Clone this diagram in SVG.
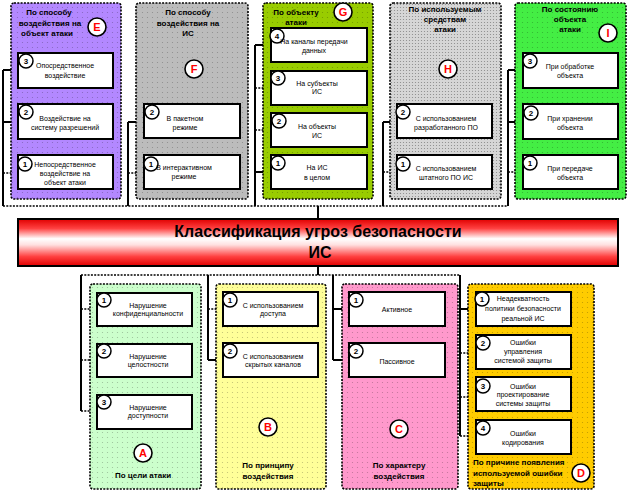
<svg xmlns="http://www.w3.org/2000/svg" width="629" height="492" viewBox="0 0 629 492">
<defs>
<style>
.panel{stroke:#000;stroke-width:1.6;stroke-dasharray:2 1.3}
.box{fill:#fff;stroke:#000;stroke-width:2}
.num{fill:#fff;stroke:#000;stroke-width:1.5}
.lc{fill:#fff;stroke:#000;stroke-width:1.6}
.nt{font-family:"Liberation Sans",Arial,sans-serif;font-size:8px;font-weight:bold;text-anchor:middle;fill:#000}
.lt{font-family:"Liberation Sans",Arial,sans-serif;font-size:11px;font-weight:bold;text-anchor:middle;fill:#ff0000}
.bt{font-family:"Liberation Sans",Arial,sans-serif;font-size:7px;text-anchor:middle;fill:#000}
.pt{font-family:"Liberation Sans",Arial,sans-serif;font-size:8px;font-weight:bold;text-anchor:middle;fill:#000}
.ln{stroke:#000;stroke-width:2;fill:none}
.dl{stroke:#000;stroke-width:1.6;fill:none;stroke-dasharray:2 1.3}
.tt{font-family:"Liberation Sans",Arial,sans-serif;font-size:16px;font-weight:bold;text-anchor:middle;fill:#000}
</style>
<pattern id="dots" width="5" height="5" patternUnits="userSpaceOnUse"><circle cx="2.5" cy="2.5" r="0.6" fill="#000" fill-opacity="0.25"/></pattern>
<pattern id="hatch" width="3" height="3" patternUnits="userSpaceOnUse"><rect width="3" height="3" fill="#d6d6d6"/><circle cx="1.5" cy="1.5" r="0.6" fill="#888"/></pattern>
<linearGradient id="red" x1="0" y1="0" x2="0" y2="1">
<stop offset="0" stop-color="#e00000"/>
<stop offset="0.2" stop-color="#ff4040"/>
<stop offset="0.42" stop-color="#ffffff"/>
<stop offset="0.55" stop-color="#ffe0e0"/>
<stop offset="0.8" stop-color="#ff4040"/>
<stop offset="1" stop-color="#e00000"/>
</linearGradient>
</defs>

<g id="connectors">
<!-- top bus -->
<path class="dl" d="M3 206 H508"/>
<path class="ln" d="M318 206 V219"/>
<path class="ln" d="M318 266 V275"/>
<path class="dl" d="M81 275 H460"/>
<!-- E -->
<path class="ln" d="M3 70 V206"/>
<path class="ln" d="M3 70 H18 M3 122 H18"/>
<path class="dl" d="M3 173 H18"/>
<!-- F -->
<path class="ln" d="M128 122 V206"/>
<path class="ln" d="M128 122 H144"/>
<path class="dl" d="M128 173 H144"/>
<!-- G -->
<path class="ln" d="M255 45 V206"/>
<path class="ln" d="M255 45 H271 M255 172 H271"/>
<path class="dl" d="M255 88 H271 M255 130 H271"/>
<!-- H -->
<path class="ln" d="M383 122 V206"/>
<path class="ln" d="M383 122 H397"/>
<path class="dl" d="M383 172 H397"/>
<!-- I -->
<path class="ln" d="M508 70 V206"/>
<path class="ln" d="M508 70 H523 M508 122 H523"/>
<path class="dl" d="M508 172 H523"/>
<!-- A -->
<path class="ln" d="M81 275 V411"/>
<path class="dl" d="M81 309 H97 M81 360 H97 M81 411 H97"/>
<!-- B -->
<path class="ln" d="M208 275 V360"/>
<path class="dl" d="M208 309 H223"/>
<path class="ln" d="M208 360 H223"/>
<!-- C -->
<path class="ln" d="M333 275 V360"/>
<path class="ln" d="M333 309 H349 M333 360 H349"/>
<!-- D -->
<path class="ln" d="M460 275 V436"/>
<path class="ln" d="M460 309 H476"/>
<path class="dl" d="M460 353 H476 M460 397 H476 M460 436 H476"/>
</g>

<g id="title">
<rect x="18" y="219" width="600" height="47" fill="url(#red)" stroke="#000" stroke-width="2"/>
<text class="tt" x="318" y="237">Классификация угроз безопасности</text>
<text class="tt" x="320" y="258">ИС</text>
</g>

<!-- E -->
<g id="groupE">
<rect class="panel" x="11" y="3" width="110" height="196" rx="3" fill="#b388ff"/>
<rect x="11" y="3" width="110" height="196" rx="3" fill="url(#dots)"/>
<text class="pt" x="49" y="15">По способу</text>
<text class="pt" x="50" y="26">воздействия на</text>
<text class="pt" x="47" y="36">объект атаки</text>
<circle class="lc" cx="97" cy="27" r="9"/><text class="lt" x="97" y="31">E</text>
</g>
<g id="E3"><rect class="box" x="18" y="53" width="95" height="35"/><circle class="num" cx="26" cy="61" r="7"/><text class="nt" x="26" y="64">3</text>
<text class="bt" x="65" y="67.5">Опосредственное</text><text class="bt" x="65" y="77.5">воздействие</text></g>
<g id="E2"><rect class="box" x="18" y="104" width="95" height="35"/><circle class="num" cx="26" cy="112" r="7"/><text class="nt" x="26" y="115">2</text>
<text class="bt" x="65" y="120.5">Воздействие на</text><text class="bt" x="65" y="129.5">систему разрешений</text></g>
<g id="E1"><rect class="box" x="18" y="155" width="95" height="34"/><circle class="num" cx="25" cy="164" r="7"/><text class="nt" x="25" y="167">1</text>
<text class="bt" x="65" y="166.5">Непосредственное</text><text class="bt" x="65" y="175.5">воздействие на</text><text class="bt" x="65" y="184.5">объект атаки</text></g>

<!-- F -->
<g id="groupF">
<rect class="panel" x="136" y="3" width="112" height="196" rx="3" fill="#bcbcbc"/>
<rect x="136" y="3" width="112" height="196" rx="3" fill="url(#dots)"/>
<text class="pt" x="188" y="15">По способу</text>
<text class="pt" x="188" y="26">воздействия на</text>
<text class="pt" x="188" y="36">ИС</text>
<circle class="lc" cx="194" cy="69" r="9"/><text class="lt" x="194" y="73">F</text>
</g>
<g id="F2"><rect class="box" x="144" y="104" width="96" height="34"/><circle class="num" cx="152" cy="112" r="7"/><text class="nt" x="152" y="115">2</text>
<text class="bt" x="185" y="120.5">В пакетном</text><text class="bt" x="185" y="129.5">режиме</text></g>
<g id="F1"><rect class="box" x="144" y="155" width="96" height="34"/><circle class="num" cx="151" cy="164" r="7"/><text class="nt" x="151" y="167">1</text>
<text class="bt" x="184" y="169.5">В интерактивном</text><text class="bt" x="184" y="178.5">режиме</text></g>

<!-- G -->
<g id="groupG">
<rect class="panel" x="263" y="3" width="110" height="196" rx="3" fill="#99cc00"/>
<rect x="263" y="3" width="110" height="196" rx="3" fill="url(#dots)"/>
<text class="pt" x="296" y="15">По объекту</text>
<text class="pt" x="296" y="25">атаки</text>
<circle class="lc" cx="343" cy="12" r="9"/><text class="lt" x="343" y="16">G</text>
</g>
<g id="G4"><rect class="box" x="271" y="28" width="96" height="34"/><circle class="num" cx="277" cy="36" r="7"/><text class="nt" x="277" y="39">4</text>
<text class="bt" x="314" y="43.5">На каналы передачи</text><text class="bt" x="314" y="52.5">данных</text></g>
<g id="G3"><rect class="box" x="271" y="71" width="96" height="34"/><circle class="num" cx="278" cy="78" r="7"/><text class="nt" x="278" y="81">3</text>
<text class="bt" x="317" y="85.5">На субъекты</text><text class="bt" x="317" y="94">ИС</text></g>
<g id="G2"><rect class="box" x="271" y="113" width="96" height="34"/><circle class="num" cx="279" cy="121" r="7"/><text class="nt" x="279" y="124">2</text>
<text class="bt" x="317" y="128.5">На объекты</text><text class="bt" x="317" y="137.5">ИС</text></g>
<g id="G1"><rect class="box" x="271" y="155" width="96" height="34"/><circle class="num" cx="278" cy="163" r="7"/><text class="nt" x="278" y="166">1</text>
<text class="bt" x="317" y="169.5">На ИС</text><text class="bt" x="317" y="179.5">в целом</text></g>

<!-- H -->
<g id="groupH">
<rect class="panel" x="390" y="3" width="111" height="196" rx="3" fill="url(#hatch)"/>
<text class="pt" x="445" y="12">По используемым</text>
<text class="pt" x="445" y="22">средствам</text>
<text class="pt" x="445" y="32">атаки</text>
<circle class="lc" cx="448" cy="69" r="9"/><text class="lt" x="448" y="73">H</text>
</g>
<g id="H2"><rect class="box" x="397" y="104" width="95" height="34"/><circle class="num" cx="403" cy="112" r="7"/><text class="nt" x="403" y="115">2</text>
<text class="bt" x="446" y="120.5">С использованием</text><text class="bt" x="446" y="129.5">разработанного ПО</text></g>
<g id="H1"><rect class="box" x="397" y="155" width="95" height="34"/><circle class="num" cx="403" cy="164" r="7"/><text class="nt" x="403" y="167">1</text>
<text class="bt" x="446" y="170.5">С использованием</text><text class="bt" x="446" y="179.5">штатного ПО ИС</text></g>

<!-- I -->
<g id="groupI">
<rect class="panel" x="515" y="3" width="111" height="196" rx="3" fill="#44ee44"/>
<rect x="515" y="3" width="111" height="196" rx="3" fill="url(#dots)"/>
<text class="pt" x="570" y="12">По состоянию</text>
<text class="pt" x="570" y="22">объекта</text>
<text class="pt" x="570" y="32">атаки</text>
<circle class="lc" cx="608" cy="33" r="9"/><text class="lt" x="608" y="37">I</text>
</g>
<g id="I3"><rect class="box" x="523" y="53" width="95" height="35"/><circle class="num" cx="530" cy="61" r="7"/><text class="nt" x="530" y="64">3</text>
<text class="bt" x="570" y="68.5">При обработке</text><text class="bt" x="570" y="77.5">объекта</text></g>
<g id="I2"><rect class="box" x="523" y="104" width="95" height="35"/><circle class="num" cx="531" cy="113" r="7"/><text class="nt" x="531" y="116">2</text>
<text class="bt" x="570" y="120.5">При хранении</text><text class="bt" x="570" y="129.5">объекта</text></g>
<g id="I1"><rect class="box" x="523" y="155" width="95" height="34"/><circle class="num" cx="530" cy="163" r="7"/><text class="nt" x="530" y="166">1</text>
<text class="bt" x="570" y="170.5">При передаче</text><text class="bt" x="570" y="179.5">объекта</text></g>

<!-- A -->
<g id="groupA">
<rect class="panel" x="90" y="284" width="111" height="205" rx="3" fill="#ccffcc"/>
<rect x="90" y="284" width="111" height="205" rx="3" fill="url(#dots)"/>
<circle class="lc" cx="143" cy="453" r="9"/><text class="lt" x="143" y="457">A</text>
<text class="pt" x="143" y="478">По цели атаки</text>
</g>
<g id="A1"><rect class="box" x="97" y="293" width="95" height="33"/><circle class="num" cx="104" cy="300" r="7"/><text class="nt" x="104" y="303">1</text>
<text class="bt" x="148" y="307.5">Нарушение</text><text class="bt" x="148" y="316">конфиденциальности</text></g>
<g id="A2"><rect class="box" x="97" y="344" width="95" height="33"/><circle class="num" cx="104" cy="351" r="7"/><text class="nt" x="104" y="354">2</text>
<text class="bt" x="148" y="358.5">Нарушение</text><text class="bt" x="148" y="367">целостности</text></g>
<g id="A3"><rect class="box" x="97" y="395" width="95" height="34"/><circle class="num" cx="104" cy="402" r="7"/><text class="nt" x="104" y="405">3</text>
<text class="bt" x="148" y="409.5">Нарушение</text><text class="bt" x="148" y="418">доступности</text></g>

<!-- B -->
<g id="groupB">
<rect class="panel" x="216" y="284" width="110" height="205" rx="3" fill="#ffff99"/>
<rect x="216" y="284" width="110" height="205" rx="3" fill="url(#dots)"/>
<circle class="lc" cx="268" cy="427" r="9"/><text class="lt" x="268" y="431">B</text>
<text class="pt" x="268" y="468">По принципу</text>
<text class="pt" x="268" y="479">воздействия</text>
</g>
<g id="B1"><rect class="box" x="223" y="292" width="95" height="34"/><circle class="num" cx="230" cy="300" r="7"/><text class="nt" x="230" y="303">1</text>
<text class="bt" x="273" y="307.5">С использованием</text><text class="bt" x="273" y="316">доступа</text></g>
<g id="B2"><rect class="box" x="223" y="343" width="95" height="34"/><circle class="num" cx="230" cy="351" r="7"/><text class="nt" x="230" y="354">2</text>
<text class="bt" x="273" y="358.5">С использованием</text><text class="bt" x="273" y="367">скрытых каналов</text></g>

<!-- C -->
<g id="groupC">
<rect class="panel" x="342" y="284" width="116" height="205" rx="3" fill="#ff99cc"/>
<rect x="342" y="284" width="116" height="205" rx="3" fill="url(#dots)"/>
<circle class="lc" cx="399" cy="429" r="9"/><text class="lt" x="399" y="433">C</text>
<text class="pt" x="399" y="468">По характеру</text>
<text class="pt" x="399" y="479">воздействия</text>
</g>
<g id="C1"><rect class="box" x="349" y="292" width="96" height="34"/><circle class="num" cx="356" cy="300" r="7"/><text class="nt" x="356" y="303">1</text>
<text class="bt" x="397" y="311.5">Активное</text></g>
<g id="C2"><rect class="box" x="349" y="343" width="96" height="34"/><circle class="num" cx="356" cy="351" r="7"/><text class="nt" x="356" y="354">2</text>
<text class="bt" x="397" y="363.5">Пассивное</text></g>

<!-- D -->
<g id="groupD">
<rect class="panel" x="468" y="284" width="126" height="205" rx="3" fill="#ffcc00"/>
<rect x="468" y="284" width="126" height="205" rx="3" fill="url(#dots)"/>
<text class="pt" x="473" y="465" text-anchor="start" style="text-anchor:start">По причине появления</text>
<text class="pt" x="473" y="476" style="text-anchor:start">используемой ошибки</text>
<text class="pt" x="473" y="486" style="text-anchor:start">защиты</text>
<circle class="lc" cx="581" cy="473" r="9"/><text class="lt" x="581" y="477">D</text>
</g>
<g id="D1"><rect class="box" x="476" y="292" width="95" height="34"/><circle class="num" cx="482" cy="299" r="7"/><text class="nt" x="482" y="302">1</text>
<text class="bt" x="523" y="300.5">Неадекватность</text><text class="bt" x="523" y="310.5">политики безопасности</text><text class="bt" x="523" y="320.5">реальной ИС</text></g>
<g id="D2"><rect class="box" x="476" y="335" width="95" height="34"/><circle class="num" cx="483" cy="343" r="7"/><text class="nt" x="483" y="346">2</text>
<text class="bt" x="523" y="344.5">Ошибки</text><text class="bt" x="523" y="353.5">управления</text><text class="bt" x="523" y="362.5">системой защиты</text></g>
<g id="D3"><rect class="box" x="476" y="377" width="95" height="34"/><circle class="num" cx="483" cy="386" r="7"/><text class="nt" x="483" y="389">3</text>
<text class="bt" x="523" y="388.5">Ошибки</text><text class="bt" x="523" y="396.5">проектирование</text><text class="bt" x="523" y="405.5">системы защиты</text></g>
<g id="D4"><rect class="box" x="476" y="420" width="95" height="34"/><circle class="num" cx="483" cy="428" r="7"/><text class="nt" x="483" y="431">4</text>
<text class="bt" x="523" y="435.5">Ошибки</text><text class="bt" x="523" y="444.5">кодирования</text></g>
</svg>
